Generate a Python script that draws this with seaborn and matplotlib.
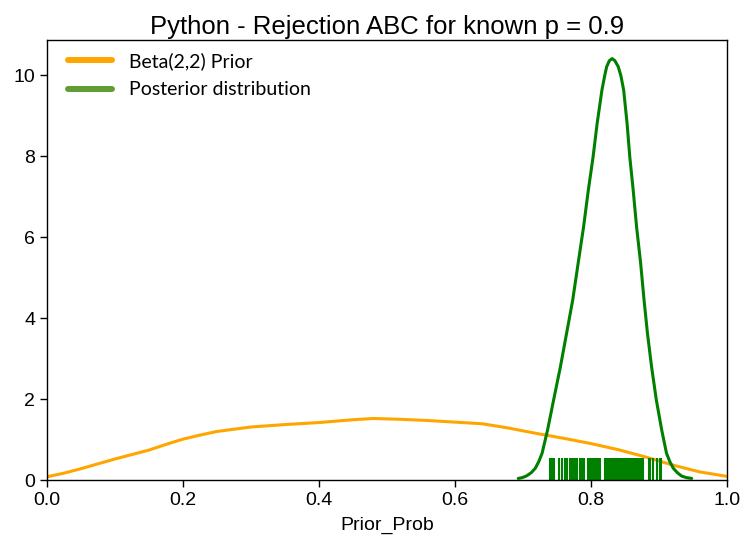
import matplotlib
matplotlib.use("Agg")
import matplotlib.pyplot as plt
from matplotlib.lines import Line2D
import pandas as pd
import seaborn as sns

# Values
prior_x = [0.0, 0.025, 0.05, 0.075, 0.10, 0.125, 0.15, 0.175, 0.20, 0.225, 0.25, 0.30,
           0.35, 0.40, 0.45, 0.48, 0.52, 0.56, 0.60, 0.64, 0.68, 0.72, 0.76, 0.80,
           0.84, 0.88, 0.92, 0.96, 1.0]
prior_density = [0.08, 0.17, 0.28, 0.40, 0.52, 0.63, 0.74, 0.88, 1.01, 1.11, 1.20, 1.31,
                 1.37, 1.42, 1.49, 1.52, 1.50, 1.47, 1.43, 1.39, 1.28, 1.15, 1.03, 0.90,
                 0.75, 0.57, 0.37, 0.20, 0.09]

post_x = [0.693, 0.699, 0.705, 0.712, 0.718, 0.723, 0.728, 0.736, 0.745, 0.755, 0.764,
          0.773, 0.781, 0.789, 0.796, 0.803, 0.809, 0.816, 0.820, 0.823, 0.827, 0.831,
          0.835, 0.840, 0.844, 0.848, 0.853, 0.857, 0.862, 0.867, 0.873, 0.878, 0.883,
          0.889, 0.896, 0.904, 0.911, 0.916, 0.921, 0.927, 0.933, 0.940, 0.948]
post_density = [0.04, 0.06, 0.10, 0.18, 0.29, 0.45, 0.66, 1.23, 1.98, 2.80, 3.62,
                4.44, 5.35, 6.25, 7.16, 7.98, 8.81, 9.63, 9.98, 10.21, 10.36, 10.41,
                10.36, 10.21, 9.98, 9.63, 8.81, 7.98, 7.16, 6.25, 5.35, 4.44, 3.62,
                2.80, 1.98, 1.23, 0.66, 0.45, 0.29, 0.18, 0.10, 0.06, 0.04]

# accepted samples shown as rug ticks
post_samples = [0.739, 0.742, 0.746, 0.753, 0.757, 0.762, 0.765, 0.769, 0.771, 0.774,
                0.776, 0.779, 0.784, 0.786, 0.789, 0.795, 0.797, 0.799, 0.802, 0.803,
                0.805, 0.807, 0.809, 0.811, 0.813, 0.820, 0.822, 0.824, 0.826, 0.828,
                0.830, 0.832, 0.834, 0.836, 0.838, 0.840, 0.842, 0.844, 0.846, 0.849,
                0.851, 0.852, 0.854, 0.856, 0.858, 0.860, 0.862, 0.864, 0.866, 0.868,
                0.870, 0.874, 0.877, 0.885, 0.887, 0.891, 0.897, 0.901, 0.903]

labels = ["Beta(2,2) Prior", "Posterior distribution"]

sns.set_style("ticks")
plt.rcParams["font.family"] = ["Liberation Sans", "DejaVu Sans"]
plt.rcParams["text.color"] = "black"
plt.rcParams["axes.labelcolor"] = "black"
plt.rcParams["xtick.major.size"] = 5
plt.rcParams["ytick.major.size"] = 5

prior_df = pd.DataFrame({"x": prior_x, "density": prior_density})
post_df = pd.DataFrame({"x": post_x, "density": post_density})
samples_df = pd.DataFrame({"Prior_Prob": post_samples})

fig = plt.figure(figsize=(7.44, 5.44), dpi=100)
ax = fig.add_axes([0.0632, 0.1176, 0.9140, 0.8089])

sns.lineplot(data=prior_df, x="x", y="density", color="orange", linewidth=2.2,
             estimator=None, ax=ax)
sns.lineplot(data=post_df, x="x", y="density", color="green", linewidth=2.2,
             estimator=None, ax=ax)
sns.rugplot(data=samples_df, x="Prior_Prob", color="green", height=0.05,
            linewidth=1.5, ax=ax)

ax.set_xlim(0, 1.0)
ax.set_ylim(0, 10.87)
ax.set_xticks([0.0, 0.2, 0.4, 0.6, 0.8, 1.0])
ax.set_yticks([0, 2, 4, 6, 8, 10])
ax.tick_params(labelsize=14, width=1, colors="black")
ax.set_xlabel("Prior_Prob", fontsize=14, labelpad=6)
ax.set_ylabel("")
ax.set_title("Python - Rejection ABC for known p = 0.9", fontsize=18.5, pad=4)
for s in ax.spines.values():
    s.set_color("black")
    s.set_linewidth(1)

handles = [Line2D([], [], color="orange", linewidth=4.3),
           Line2D([], [], color="#619c35", linewidth=4.3)]
ax.legend(handles, labels, loc="upper left", frameon=False,
          bbox_to_anchor=(0.003, 1.016),
          prop={"family": ["Lato", "DejaVu Sans"], "size": 14},
          handlelength=2.27, handletextpad=0.87, borderaxespad=0.58,
          labelspacing=0.59)

fig.savefig("out.png", dpi=100)
